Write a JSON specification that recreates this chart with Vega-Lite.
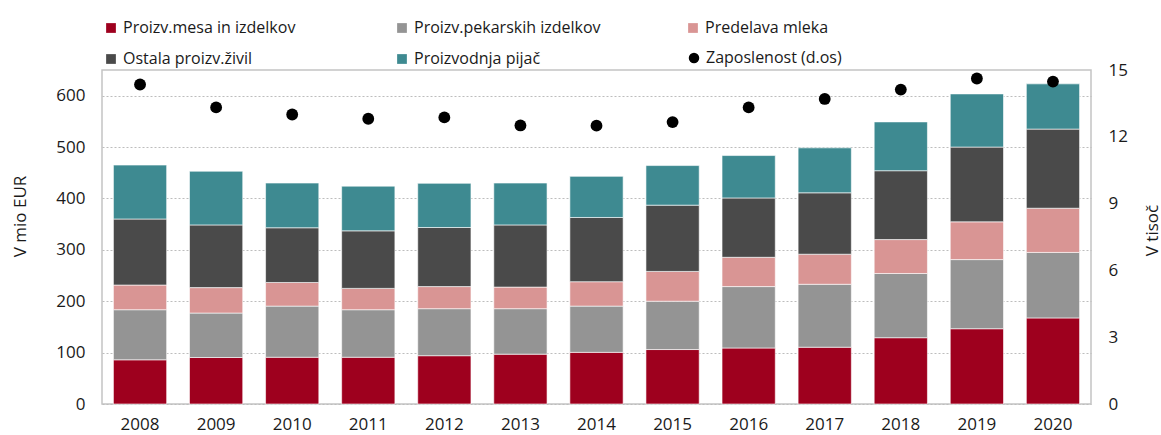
{
  "$schema": "https://vega.github.io/schema/vega-lite/v6.json",
  "width": 989,
  "height": 334,
  "autosize": {"type": "none"},
  "padding": {"left": 102, "top": 70, "right": 70, "bottom": 31},
  "config": {
    "font": "Open Sans",
    "view": {"stroke": "#c4c4c4", "strokeWidth": 1.5},
    "axis": {"labelColor": "#1a1a1a", "titleColor": "#1a1a1a", "titleFontWeight": "normal", "labelFont": "Open Sans", "titleFont": "Open Sans"}
  },
  "datasets": {
    "bars": [
      {"year": "2008", "cat": "Proizv.mesa in izdelkov", "k": 1, "v": 86},
      {"year": "2008", "cat": "Proizv.pekarskih izdelkov", "k": 2, "v": 97.5},
      {"year": "2008", "cat": "Predelava mleka", "k": 3, "v": 48},
      {"year": "2008", "cat": "Ostala proizv.živil", "k": 4, "v": 128.5},
      {"year": "2008", "cat": "Proizvodnja pijač", "k": 5, "v": 105},
      {"year": "2009", "cat": "Proizv.mesa in izdelkov", "k": 1, "v": 90.5},
      {"year": "2009", "cat": "Proizv.pekarskih izdelkov", "k": 2, "v": 86.5},
      {"year": "2009", "cat": "Predelava mleka", "k": 3, "v": 49.5},
      {"year": "2009", "cat": "Ostala proizv.živil", "k": 4, "v": 122},
      {"year": "2009", "cat": "Proizvodnja pijač", "k": 5, "v": 104.5},
      {"year": "2010", "cat": "Proizv.mesa in izdelkov", "k": 1, "v": 91},
      {"year": "2010", "cat": "Proizv.pekarskih izdelkov", "k": 2, "v": 99.5},
      {"year": "2010", "cat": "Predelava mleka", "k": 3, "v": 46},
      {"year": "2010", "cat": "Ostala proizv.živil", "k": 4, "v": 106.5},
      {"year": "2010", "cat": "Proizvodnja pijač", "k": 5, "v": 87},
      {"year": "2011", "cat": "Proizv.mesa in izdelkov", "k": 1, "v": 91},
      {"year": "2011", "cat": "Proizv.pekarskih izdelkov", "k": 2, "v": 92.5},
      {"year": "2011", "cat": "Predelava mleka", "k": 3, "v": 41.5},
      {"year": "2011", "cat": "Ostala proizv.živil", "k": 4, "v": 112},
      {"year": "2011", "cat": "Proizvodnja pijač", "k": 5, "v": 87},
      {"year": "2012", "cat": "Proizv.mesa in izdelkov", "k": 1, "v": 94},
      {"year": "2012", "cat": "Proizv.pekarskih izdelkov", "k": 2, "v": 91.5},
      {"year": "2012", "cat": "Predelava mleka", "k": 3, "v": 43},
      {"year": "2012", "cat": "Ostala proizv.živil", "k": 4, "v": 115},
      {"year": "2012", "cat": "Proizvodnja pijač", "k": 5, "v": 86},
      {"year": "2013", "cat": "Proizv.mesa in izdelkov", "k": 1, "v": 97},
      {"year": "2013", "cat": "Proizv.pekarskih izdelkov", "k": 2, "v": 88.5},
      {"year": "2013", "cat": "Predelava mleka", "k": 3, "v": 42},
      {"year": "2013", "cat": "Ostala proizv.živil", "k": 4, "v": 121},
      {"year": "2013", "cat": "Proizvodnja pijač", "k": 5, "v": 81.5},
      {"year": "2014", "cat": "Proizv.mesa in izdelkov", "k": 1, "v": 100.5},
      {"year": "2014", "cat": "Proizv.pekarskih izdelkov", "k": 2, "v": 90},
      {"year": "2014", "cat": "Predelava mleka", "k": 3, "v": 47.5},
      {"year": "2014", "cat": "Ostala proizv.živil", "k": 4, "v": 125},
      {"year": "2014", "cat": "Proizvodnja pijač", "k": 5, "v": 80},
      {"year": "2015", "cat": "Proizv.mesa in izdelkov", "k": 1, "v": 106},
      {"year": "2015", "cat": "Proizv.pekarskih izdelkov", "k": 2, "v": 94},
      {"year": "2015", "cat": "Predelava mleka", "k": 3, "v": 58},
      {"year": "2015", "cat": "Ostala proizv.živil", "k": 4, "v": 129},
      {"year": "2015", "cat": "Proizvodnja pijač", "k": 5, "v": 77},
      {"year": "2016", "cat": "Proizv.mesa in izdelkov", "k": 1, "v": 109},
      {"year": "2016", "cat": "Proizv.pekarskih izdelkov", "k": 2, "v": 119.5},
      {"year": "2016", "cat": "Predelava mleka", "k": 3, "v": 57},
      {"year": "2016", "cat": "Ostala proizv.živil", "k": 4, "v": 115.5},
      {"year": "2016", "cat": "Proizvodnja pijač", "k": 5, "v": 82.5},
      {"year": "2017", "cat": "Proizv.mesa in izdelkov", "k": 1, "v": 110.5},
      {"year": "2017", "cat": "Proizv.pekarskih izdelkov", "k": 2, "v": 122.5},
      {"year": "2017", "cat": "Predelava mleka", "k": 3, "v": 58.5},
      {"year": "2017", "cat": "Ostala proizv.živil", "k": 4, "v": 119.5},
      {"year": "2017", "cat": "Proizvodnja pijač", "k": 5, "v": 87.5},
      {"year": "2018", "cat": "Proizv.mesa in izdelkov", "k": 1, "v": 129},
      {"year": "2018", "cat": "Proizv.pekarskih izdelkov", "k": 2, "v": 125},
      {"year": "2018", "cat": "Predelava mleka", "k": 3, "v": 66},
      {"year": "2018", "cat": "Ostala proizv.živil", "k": 4, "v": 134},
      {"year": "2018", "cat": "Proizvodnja pijač", "k": 5, "v": 95},
      {"year": "2019", "cat": "Proizv.mesa in izdelkov", "k": 1, "v": 146.5},
      {"year": "2019", "cat": "Proizv.pekarskih izdelkov", "k": 2, "v": 134.5},
      {"year": "2019", "cat": "Predelava mleka", "k": 3, "v": 73.5},
      {"year": "2019", "cat": "Ostala proizv.živil", "k": 4, "v": 145.5},
      {"year": "2019", "cat": "Proizvodnja pijač", "k": 5, "v": 103.5},
      {"year": "2020", "cat": "Proizv.mesa in izdelkov", "k": 1, "v": 167.5},
      {"year": "2020", "cat": "Proizv.pekarskih izdelkov", "k": 2, "v": 127.5},
      {"year": "2020", "cat": "Predelava mleka", "k": 3, "v": 86},
      {"year": "2020", "cat": "Ostala proizv.živil", "k": 4, "v": 154},
      {"year": "2020", "cat": "Proizvodnja pijač", "k": 5, "v": 88}
    ],
    "emp": [
      {"year": "2008", "cat": "Zaposlenost (d.os)", "e": 14.35},
      {"year": "2009", "cat": "Zaposlenost (d.os)", "e": 13.32},
      {"year": "2010", "cat": "Zaposlenost (d.os)", "e": 13.0},
      {"year": "2011", "cat": "Zaposlenost (d.os)", "e": 12.81},
      {"year": "2012", "cat": "Zaposlenost (d.os)", "e": 12.87},
      {"year": "2013", "cat": "Zaposlenost (d.os)", "e": 12.51},
      {"year": "2014", "cat": "Zaposlenost (d.os)", "e": 12.5},
      {"year": "2015", "cat": "Zaposlenost (d.os)", "e": 12.66},
      {"year": "2016", "cat": "Zaposlenost (d.os)", "e": 13.32},
      {"year": "2017", "cat": "Zaposlenost (d.os)", "e": 13.7},
      {"year": "2018", "cat": "Zaposlenost (d.os)", "e": 14.12},
      {"year": "2019", "cat": "Zaposlenost (d.os)", "e": 14.62},
      {"year": "2020", "cat": "Zaposlenost (d.os)", "e": 14.48}
    ]
  },
  "layer": [
    {
      "data": {"name": "bars"},
      "mark": {"type": "bar", "stroke": "#ffffff", "strokeOpacity": 0.6, "strokeWidth": 1},
      "encoding": {
        "x": {
          "field": "year", "type": "ordinal",
          "scale": {"paddingInner": 0.3, "paddingOuter": 0.15},
          "axis": {"title": null, "labelAngle": 0, "ticks": false, "domain": false, "labelPadding": 12, "labelFontSize": 17}
        },
        "y": {
          "field": "v", "type": "quantitative", "stack": "zero",
          "scale": {"domain": [0, 650], "nice": false},
          "axis": {
            "title": "V mio EUR", "values": [0, 100, 200, 300, 400, 500, 600],
            "grid": true, "gridDash": [2, 2], "gridColor": "#bdbdbd", "gridWidth": 1,
            "ticks": false, "domain": false, "labelPadding": 17, "labelFontSize": 17,
            "titleFontSize": 17, "titleX": -82, "titleY": 146, "titleAngle": 270, "titleAlign": "center", "titleBaseline": "middle"
          }
        },
        "color": {
          "field": "cat", "type": "nominal",
          "scale": {
            "domain": ["Proizv.mesa in izdelkov", "Proizv.pekarskih izdelkov", "Predelava mleka", "Ostala proizv.živil", "Proizvodnja pijač"],
            "range": ["#9e001e", "#949494", "#d99594", "#4a4a4a", "#3e8a91"]
          },
          "legend": {
            "title": null, "orient": "none", "legendX": 1, "legendY": -50,
            "direction": "horizontal", "columns": 3, "gridAlign": "all",
            "columnPadding": 84, "rowPadding": 15,
            "labelFontSize": 16, "labelColor": "#1a1a1a", "labelOffset": 4,
            "symbolType": "square", "symbolSize": 95, "symbolStrokeWidth": 0, "labelLimit": 400
          }
        },
        "order": {"field": "k", "type": "quantitative"}
      }
    },
    {
      "data": {"name": "emp"},
      "mark": {"type": "point", "filled": true, "size": 140, "opacity": 1, "color": "#000000"},
      "encoding": {
        "x": {"field": "year", "type": "ordinal"},
        "y": {
          "field": "e", "type": "quantitative",
          "scale": {"domain": [0, 15], "nice": false},
          "axis": {
            "orient": "right", "title": "V tisoč", "values": [0, 3, 6, 9, 12, 15],
            "grid": false, "ticks": false, "domain": false, "labelPadding": 17, "labelFontSize": 17,
            "titleFontSize": 17, "titleX": 61, "titleY": 160, "titleAngle": 270, "titleAlign": "center", "titleBaseline": "middle"
          }
        },
        "shape": {
          "field": "cat", "type": "nominal",
          "scale": {"domain": ["Zaposlenost (d.os)"], "range": ["circle"]},
          "legend": {
            "title": null, "orient": "none", "legendX": 584, "legendY": -20,
            "labelFontSize": 16, "labelColor": "#1a1a1a", "labelOffset": 4,
            "symbolSize": 110, "symbolFillColor": "#000000", "symbolStrokeColor": "#000000", "symbolStrokeWidth": 0, "labelLimit": 400
          }
        }
      }
    }
  ],
  "resolve": {"scale": {"y": "independent"}}
}
